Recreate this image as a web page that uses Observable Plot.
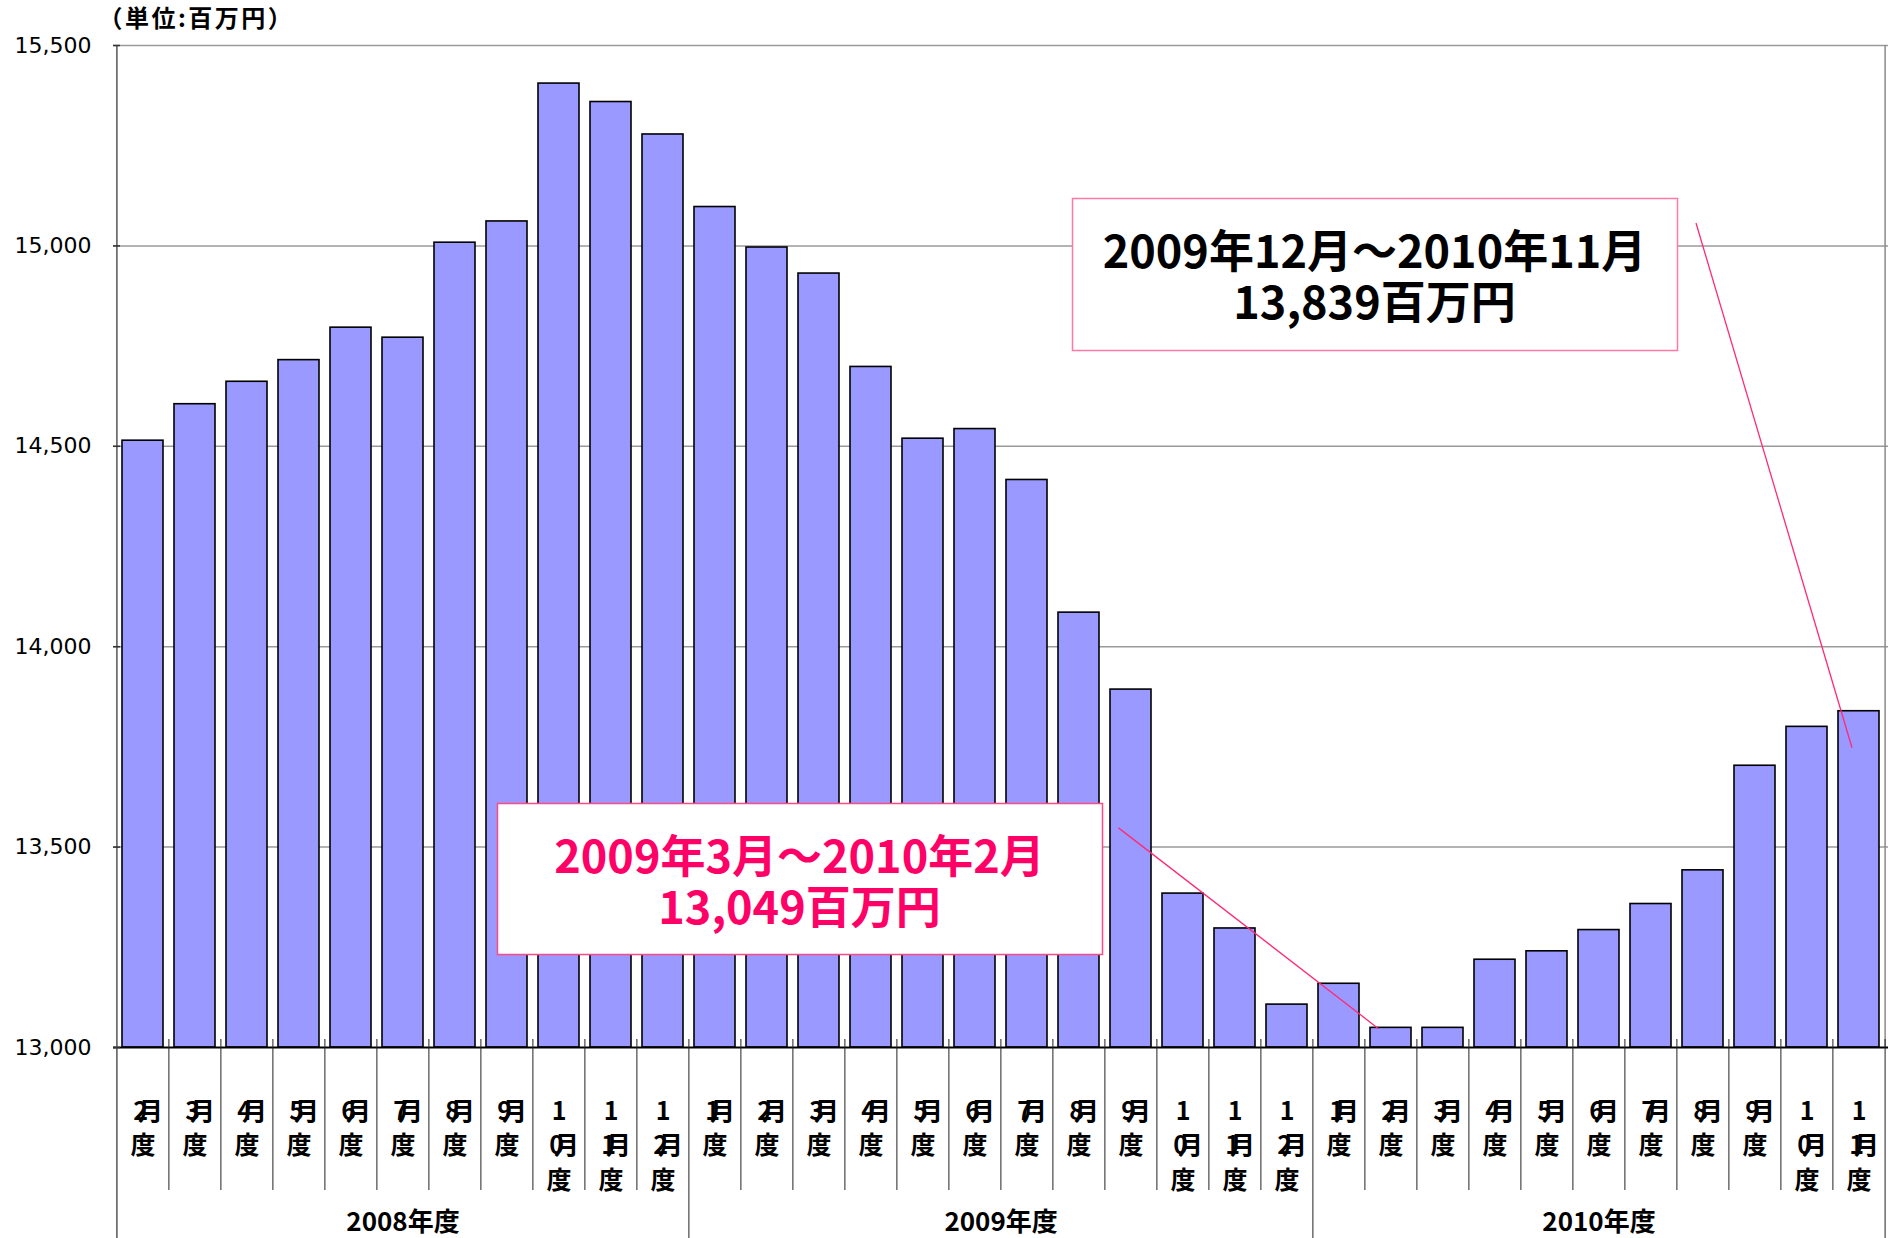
<!DOCTYPE html>
<html>
<head>
<meta charset="utf-8">
<script src="https://cdn.jsdelivr.net/npm/d3@7"></script>
<script src="https://cdn.jsdelivr.net/npm/@observablehq/plot@0.6"></script>
<style>
  html, body { margin: 0; padding: 0; background: #fff; }
  #chart { width: 1892px; height: 1238px; }
</style>
</head>
<body>
<div id="chart"></div>
<script>
// ---- data ----
const monthLabels = ["2","3","4","5","6","7","8","9","10","11","12",
                     "1","2","3","4","5","6","7","8","9","10","11","12",
                     "1","2","3","4","5","6","7","8","9","10","11"];
const fiscalYears = ["2008年度","2008年度","2008年度","2008年度","2008年度","2008年度","2008年度","2008年度","2008年度","2008年度","2008年度",
                     "2009年度","2009年度","2009年度","2009年度","2009年度","2009年度","2009年度","2009年度","2009年度","2009年度","2009年度","2009年度",
                     "2010年度","2010年度","2010年度","2010年度","2010年度","2010年度","2010年度","2010年度","2010年度","2010年度","2010年度"];
const values = [14514,14605,14661,14715,14796,14771,15008,15061,15405,15359,15278,
                15097,14996,14931,14698,14519,14543,14416,14085,13893,13384,13297,13107,
                13159,13049,13049,13219,13240,13293,13358,13442,13703,13800,13839];
const yTicks = [13000,13500,14000,14500,15000,15500];
const unitLabel = "（単位:百万円）";
const yearLabels = ["2008年度","2009年度","2010年度"];
const note1Text = "2009年3月～2010年2月\n13,049百万円";
const note2Text = "2009年12月～2010年11月\n13,839百万円";

// ---- table ----
const data = monthLabels.map((m, i) => ({key: fiscalYears[i] + "-" + m, month: m, fy: fiscalYears[i], value: values[i], i}));
const keys = data.map(d => d.key);

const W = 1892, H = 1238, mL = 113, mR = 4, mT = 45, mB = 191;
const plotW = W - mL - mR, plotH = H - mT - mB;
const step = plotW / keys.length;

const yearStarts = yearLabels.map(y => data.findIndex(d => d.fy === y));
const yearEnds = yearLabels.map(y => data.length - 1 - [...data].reverse().findIndex(d => d.fy === y));
const monthSepKeys = keys.filter((k, i) => i > 0 && !yearStarts.includes(i));
const yearSepKeys = yearStarts.map(i => keys[i]);

const marks = [
  Plot.gridY(yTicks.filter(t => t > 13000), {stroke: "#9a9a9a", strokeOpacity: 1, strokeWidth: 1.5}),
  // right border
  Plot.ruleX([keys[keys.length - 1]], {dx: step / 2, stroke: "#8a8a8a", strokeWidth: 1.5}),
  Plot.barY(data, {x: "key", y1: 13000, y2: "value", fill: "#9999ff", stroke: "#000", strokeWidth: 1.6}),
  // baseline
  Plot.ruleY([13000], {stroke: "#000", strokeWidth: 2}),
  // left axis line extending into year separator
  Plot.ruleX([keys[0]], {dx: -step / 2, stroke: "#555", strokeWidth: 1.5, insetBottom: -(mB)}),
  // inner ticks on y axis
  Plot.ruleY(yTicks, {stroke: "#333", strokeWidth: 1.5, insetRight: plotW - 7}),
  Plot.axisY({ticks: yTicks, tickFormat: d3.format(","), tickSize: 0, tickPadding: 22, fontSize: 22, label: null,
              fontFamily: "'DejaVu Sans', sans-serif", fill: "#000"}),
  // month separators
  Plot.ruleX(monthSepKeys, {dx: -step / 2, stroke: "#222", strokeWidth: 1, insetTop: plotH - 8, insetBottom: -143}),
  // year separators
  Plot.ruleX(yearSepKeys.slice(1), {dx: -step / 2, stroke: "#222", strokeWidth: 1, insetTop: plotH - 8, insetBottom: -mB}),
  Plot.ruleX([keys[keys.length - 1]], {dx: step / 2, stroke: "#222", strokeWidth: 1, insetTop: plotH - 8, insetBottom: -mB}),
  // month labels
  Plot.text(data, {x: "key", text: d => d.month.length === 2 ? d.month[0] + "\n" + d.month[1] + "月\n度" : d.month + "月\n度",
                   frameAnchor: "bottom", lineAnchor: "top", dy: 48, fontSize: 25, fontWeight: "bold", lineHeight: 1.38, fill: "#000"}),
  // unit label
  Plot.text([unitLabel], {frameAnchor: "top-left", textAnchor: "start", lineAnchor: "middle", dx: -15, dy: -26,
                          fontSize: 24, fontWeight: "bold", fill: "#000"}),
  // annotation boxes
  Plot.frame({fill: "#fff", stroke: "#ff4a88", strokeWidth: 1.5, insetLeft: 384, insetRight: 786, insetTop: 758, insetBottom: 93}),
  Plot.text([note1Text], {frameAnchor: "top-left", textAnchor: "middle", lineAnchor: "middle", dx: 686, dy: 837,
                          fontSize: 45, fontWeight: "bold", lineHeight: 1.13, fill: "#ff0066"}),
  Plot.frame({fill: "#fff", stroke: "#ff78a8", strokeWidth: 1.5, insetLeft: 959, insetRight: 211, insetTop: 153, insetBottom: 697}),
  Plot.text([note2Text], {frameAnchor: "top-left", textAnchor: "middle", lineAnchor: "middle", dx: 1261, dy: 232,
                          fontSize: 45, fontWeight: "bold", lineHeight: 1.13, fill: "#000"}),
  // leader lines
  Plot.link([{a: keys[19], b: keys[24]}], {x1: "a", x2: "b", y1: 13548, y2: 13047, dx: -12.5, stroke: "#ff2a75", strokeWidth: 1.3}),
  Plot.link([{a: keys[30], b: keys[33]}], {x1: "a", x2: "b", y1: 15057, y2: 13748, dx: -7, stroke: "#ff2a75", strokeWidth: 1.3})
];

// year labels
yearLabels.forEach((y, j) => {
  const c = (yearStarts[j] + yearEnds[j]) / 2;
  marks.push(Plot.text([y], {x: [keys[Math.floor(c)]], text: [y], dx: (c % 1) * step, frameAnchor: "bottom", lineAnchor: "middle", dy: 175,
                             fontSize: 26, fontWeight: "bold", fill: "#000"}));
});

const chart = Plot.plot({
  width: W, height: H,
  marginLeft: mL, marginRight: mR, marginTop: mT, marginBottom: mB,
  x: {type: "band", domain: keys, paddingInner: 0.21, paddingOuter: 0.105, axis: null},
  y: {domain: [13000, 15500], axis: null},
  style: {fontFamily: "'Noto Sans CJK JP', 'Noto Sans', sans-serif", background: "#fff", color: "#000", overflow: "visible"},
  marks
});

// digit and 月 overlap in the original category labels
d3.select(chart).selectAll("tspan").each(function() {
  if (/^\d月$/.test(this.textContent)) this.setAttribute("letter-spacing", "-10");
});
// wider spacing of the unit label
d3.select(chart).selectAll("text").each(function() {
  if (this.textContent === unitLabel) this.setAttribute("letter-spacing", "2.5");
});

document.getElementById("chart").appendChild(chart);
</script>
</body>
</html>
